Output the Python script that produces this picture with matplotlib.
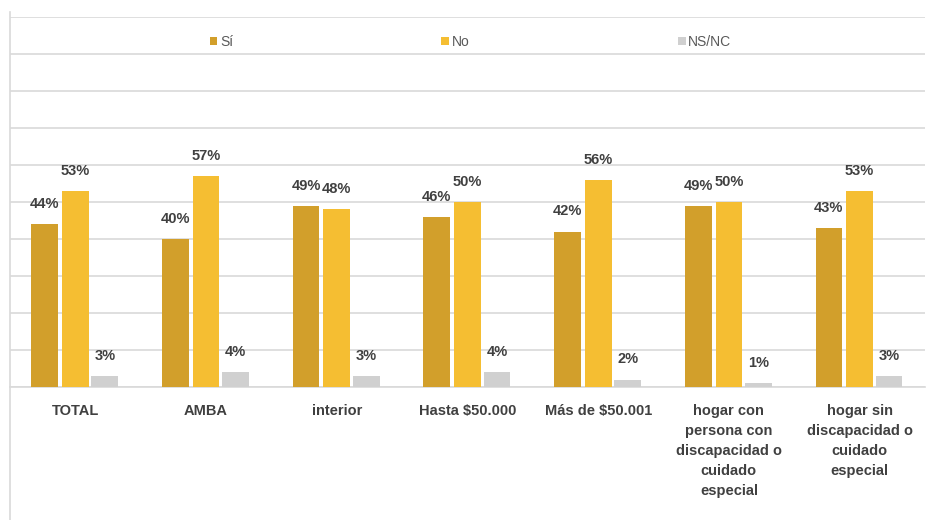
import matplotlib
matplotlib.use("Agg")
import matplotlib.pyplot as plt
from matplotlib.lines import Line2D
import numpy as np

categories = ["TOTAL", "AMBA", "interior", "Hasta \\$50.000", "Más de \\$50.001",
              "hogar con\npersona con\ndiscapacidad o\ncuidado\nespecial",
              "hogar sin\ndiscapacidad o\ncuidado\nespecial"]
series_names = ["Sí", "No", "NS/NC"]
si = [44, 40, 49, 46, 42, 49, 43]
no = [53, 57, 48, 50, 56, 50, 53]
nsnc = [3, 4, 3, 4, 2, 1, 3]
values = [si, no, nsnc]
colors = ["#D29F2B", "#F5BE32", "#D0D0D0"]

plt.rcParams['font.family'] = ['Liberation Sans', 'DejaVu Sans']

fig = plt.figure(figsize=(9.27, 5.2), dpi=100)
ax = fig.add_axes([10/927, 1-387/520, (925-10)/927, (387-17)/520])

x = np.arange(len(categories))
offsets = [-0.235, 0.0, 0.225]
width = 0.205
for vals, off, col, name in zip(values, offsets, colors, series_names):
    bars = ax.bar(x + off, np.array(vals) / 100, width=width, color=col, label=name, zorder=3)
    for b, v in zip(bars, vals):
        ax.annotate(f"{v}%", (b.get_x() + b.get_width()/2, b.get_height()),
                    xytext=(0, 14.5), textcoords="offset points", ha="center", va="center",
                    fontsize=10.5, fontweight="bold", color="#404040")

ax.set_xlim(-0.5, len(categories) - 0.5)
ax.set_ylim(0, 1.0)
ax.set_yticks(np.arange(0, 1.01, 0.1))
ax.set_yticklabels([])
ax.tick_params(axis="y", length=0)
ax.tick_params(axis="x", length=0, pad=12)
ax.set_xticks(x)
ax.set_xticklabels(categories, fontsize=10.5, fontweight="bold", color="#404040",
                   linespacing=1.56, va="top")
ax.grid(axis="y", color="#D9D9D9", linewidth=1.2, zorder=0)
for s in ["top", "right", "left"]:
    ax.spines[s].set_visible(False)
ax.spines["bottom"].set_color("#D9D9D9")
ax.spines["bottom"].set_linewidth(1.2)

fig.add_artist(Line2D([10/927, 10/927], [0, 1-12/520], transform=fig.transFigure,
                      color="#D9D9D9", linewidth=1.2))

leg = ax.legend(loc="center left", bbox_to_anchor=(194/915, 1-(42-17)/370), ncol=3,
                frameon=False, fontsize=10, handlelength=0.55, handleheight=0.55,
                handletextpad=0.2, columnspacing=15.0, borderaxespad=0)
for t in leg.get_texts():
    t.set_color("#595959")

fig.savefig("out.png", dpi=100)
